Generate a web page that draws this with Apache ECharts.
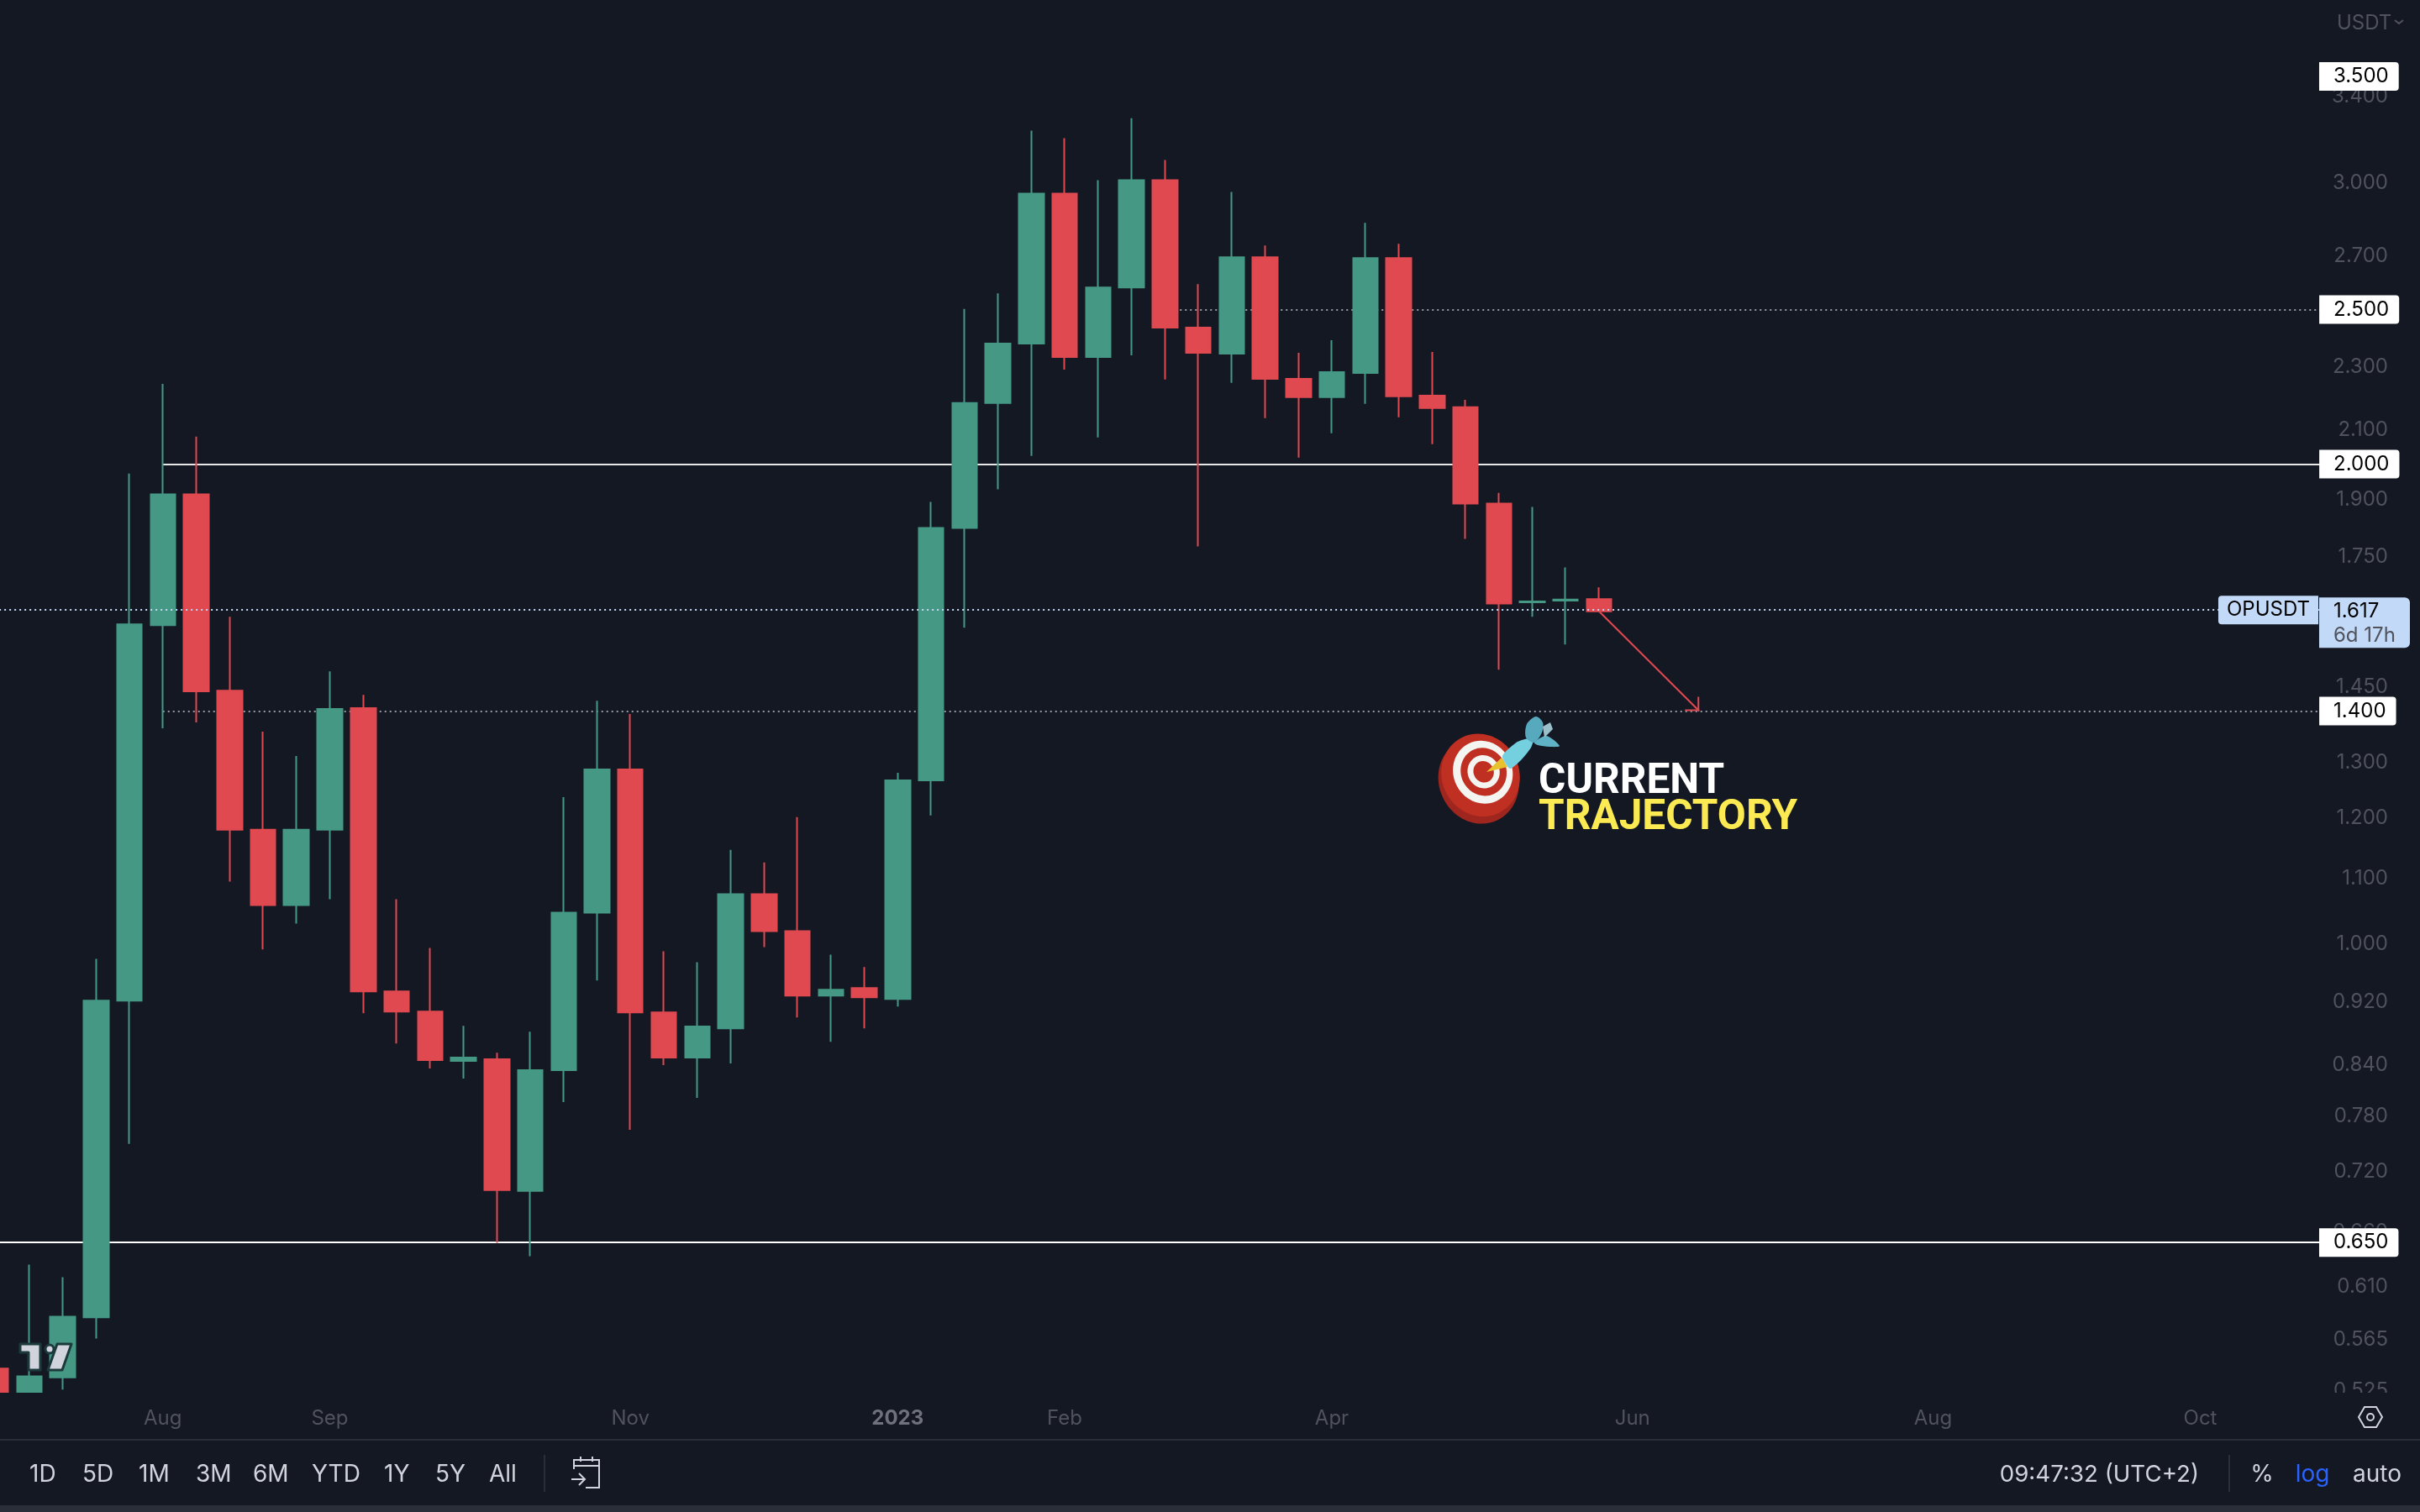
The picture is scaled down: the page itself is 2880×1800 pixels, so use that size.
<!DOCTYPE html>
<html><head><meta charset="utf-8">
<script src="https://cdn.jsdelivr.net/npm/echarts@6/dist/echarts.min.js"></script>
<style>html,body{margin:0;padding:0;background:#141823}#c{width:2880px;height:1800px}</style>
</head><body><div id="c"></div>
<script>
const opens  = [.5418,.5181,.5350,.5834,.9217,1.5847,1.9141,1.4419,1.1797,1.0579,1.1797,1.4058,.9340,.9072,.8448,.8469,.7003,.8337,1.0464,1.2869,.9062,.8489,.8855,1.0747,1.0189,.9284,.9386,.9239,1.2668,1.8235,2.1839,2.3796,2.9549,2.3341,2.5804,3.0129,2.4352,2.3456,2.6954,2.2620,2.2025,2.2810,2.6920,2.2078,2.1710,1.8887,1.6382,1.6422,1.6455];
const closes = [.5181,.5359,.5840,.9217,1.5867,1.9141,1.4403,1.1797,1.0579,1.1797,1.4041,.9340,.9072,.8458,.8489,.7011,.8337,1.0464,1.2869,.9062,.8489,.8878,1.0747,1.0189,.9284,.9363,.9262,1.2668,1.8235,2.1839,2.3796,2.9549,2.3341,2.5804,3.0129,2.4352,2.3485,2.6954,2.2620,2.2025,2.2837,2.6920,2.2052,2.1681,1.8887,1.6353,1.6400,1.6445,1.617];
const lows   = [.50,.5119,.5257,.5659,.7494,1.3657,1.3773,1.0944,.9925,1.0301,1.0670,.9050,.8665,.8357,.8236,.6497,.6373,.7961,.9489,.7649,.8397,.8009,.8418,.9957,.8996,.8685,.8855,.9139,1.2043,1.5790,1.9281,2.0234,2.2919,2.0781,2.3396,2.2593,1.7757,2.2484,2.1368,2.0184,2.0907,2.1813,2.1396,2.0579,1.7949,1.4863,1.6040,1.5413,1.615];
const highs  = [.545,.6296,.6182,.9790,1.9729,2.2456,2.0808,1.6040,1.3591,1.3121,1.4827,1.4331,1.0670,.9945,.8887,.8550,.8812,1.2365,1.4211,1.3941,.9897,.9742,1.1459,1.1252,1.2014,.9849,.9675,1.2807,1.8933,2.5022,2.5586,3.2359,3.2010,3.0129,3.2951,3.1018,2.5930,2.9620,2.7416,2.3484,2.3911,2.8329,2.7483,2.3512,2.1944,1.9186,1.8796,1.7229,1.6735];

const priceTicks = [3.4,3.0,2.7,2.3,2.1,1.9,1.75,1.45,1.3,1.2,1.1,1.0,.92,.84,.78,.72,.66,.61,.565,.525];
const monthLabels = {'2022-08-01':'Aug','2022-09-05':'Sep','2022-11-07':'Nov','2023-01-02':'{b|2023}','2023-02-06':'Feb','2023-04-03':'Apr','2023-06-05':'Jun','2023-08-07':'Aug','2023-10-02':'Oct'};
const solidLevels = [2.0,0.65];
const dottedLevels = [2.5,1.4];
const lastPrice = 1.617, arrowTarget = 1.4, topTag = 3.5;
const symbolName = 'OPUSDT', countdown = '6d 17h';
const rangeButtons = ['1D','5D','1M','3M','6M','YTD','1Y','5Y','All'];
const rangeX = [35,98,165,233,301,371,457,518,582];

const categories = [];
for (let i=0,t=Date.UTC(2022,5,27); i<71; i++,t+=7*864e5) categories.push(new Date(t).toISOString().slice(0,10));
const lastCat = categories[categories.length-1];
const candles = opens.map((o,i)=>[o,closes[i],lows[i],highs[i]]);

const UP='#459984', DOWN='#E04950', BG='#141823', TICK='#50535e', UI='#d1d4dc', SEP='#2a2e39';
const FONT='Inter, "Noto Sans", sans-serif';
const levelLabel = {show:true,position:'end',distance:-17.4,backgroundColor:'#fff',color:'#000',fontFamily:FONT,fontSize:24,
  padding:[5,12,3,17],lineHeight:26,borderRadius:[0,4,4,0],opacity:1};
const seg = (startCat,v,style)=>[{xAxis:startCat,yAxis:v,lineStyle:style,label:{formatter:v.toFixed(3)}},{xAxis:lastCat,yAxis:v}];

const chart = echarts.init(document.getElementById('c'),null,{renderer:'canvas'});
const gfx = [];
gfx.push({type:'rect',z:3,shape:{x:0,y:1658,width:2880,height:56},style:{fill:BG},silent:true});
gfx.push({type:'rect',z:6,shape:{x:0,y:1713,width:2880,height:2},style:{fill:SEP},silent:true});
gfx.push({type:'rect',z:6,shape:{x:0,y:1792,width:2880,height:8},style:{fill:SEP},silent:true});
rangeButtons.forEach((t,i)=>gfx.push({type:'text',z:6,style:{text:t,x:rangeX[i],y:1756,fill:UI,font:'400 28px '+FONT,textVerticalAlign:'middle'}}));
[[647,1732,44],[2652,1732,44]].forEach(a=>gfx.push({type:'rect',z:6,shape:{x:a[0],y:a[1],width:2,height:a[2]},style:{fill:SEP}}));
gfx.push({type:'text',z:6,style:{text:'09:47:32 (UTC+2)',x:2617,y:1756,fill:UI,font:'400 27.7px '+FONT,textAlign:'right',textVerticalAlign:'middle'}});
gfx.push({type:'text',z:6,style:{text:'%',x:2692,y:1756,fill:UI,font:'400 28px '+FONT,textAlign:'center',textVerticalAlign:'middle'}});
gfx.push({type:'text',z:6,style:{text:'log',x:2752,y:1756,fill:'#2962ff',font:'400 28px '+FONT,textAlign:'center',textVerticalAlign:'middle'}});
gfx.push({type:'text',z:6,style:{text:'auto',x:2829,y:1756,fill:UI,font:'400 28px '+FONT,textAlign:'center',textVerticalAlign:'middle'}});
gfx.push({type:'text',z:6,style:{text:'USDT',x:2781,y:28,fill:TICK,font:'400 24px '+FONT,textVerticalAlign:'middle'}});
gfx.push({type:'polyline',z:6,shape:{points:[[2850,24],[2855,28],[2860,24]]},style:{stroke:TICK,lineWidth:2,fill:null}});
gfx.push({type:'polygon',z:6,shape:{points:[[2807,1687],[2814,1675],[2828,1675],[2835,1687],[2828,1699],[2814,1699]]},style:{stroke:UI,lineWidth:2,fill:null}});
gfx.push({type:'circle',z:6,shape:{cx:2821,cy:1687,r:4},style:{stroke:UI,lineWidth:2,fill:null}});
gfx.push({type:'polyline',z:6,shape:{points:[[683,1749],[683,1738],[713,1738],[713,1771],[697,1771]]},style:{stroke:UI,lineWidth:2,fill:null}});
gfx.push({type:'polyline',z:6,shape:{points:[[683,1745],[713,1745]]},style:{stroke:UI,lineWidth:2}});
gfx.push({type:'polyline',z:6,shape:{points:[[691,1734],[691,1740]]},style:{stroke:UI,lineWidth:2}});
gfx.push({type:'polyline',z:6,shape:{points:[[705,1734],[705,1740]]},style:{stroke:UI,lineWidth:2}});
gfx.push({type:'polyline',z:6,shape:{points:[[680,1761],[695,1761]]},style:{stroke:UI,lineWidth:2}});
gfx.push({type:'polyline',z:6,shape:{points:[[689,1754],[696,1761],[689,1768]]},style:{stroke:UI,lineWidth:2,fill:null}});
const logo={stroke:'#1c3a3c',lineWidth:3,fill:UI,lineJoin:'round'};
gfx.push({type:'polygon',z:6,shape:{points:[[24,1600],[48,1600],[48,1631],[34,1631],[34,1610],[24,1610]]},style:logo});
gfx.push({type:'polygon',z:6,shape:{points:[[68,1600],[85,1600],[74,1631],[57,1631]]},style:logo});
gfx.push({type:'circle',z:6,shape:{cx:59,cy:1606,r:5},style:logo});
// target + dart illustration
const rot={rotation:0.45,originX:1762,originY:925};
gfx.push(Object.assign({type:'ellipse',z:6,shape:{cx:1758,cy:928,rx:47,ry:52},style:{fill:'#9f261e'}},rot));
gfx.push(Object.assign({type:'ellipse',z:6,shape:{cx:1763,cy:923,rx:46,ry:50},style:{fill:'#bf2f22'}},rot));
gfx.push(Object.assign({type:'ellipse',z:6,shape:{cx:1767,cy:921,rx:35,ry:38},style:{fill:'#f4f4f0'}},rot));
gfx.push(Object.assign({type:'ellipse',z:6,shape:{cx:1768,cy:921,rx:27,ry:29},style:{fill:'#bf2f22'}},rot));
gfx.push(Object.assign({type:'ellipse',z:6,shape:{cx:1768,cy:921,rx:19,ry:20},style:{fill:'#f4f4f0'}},rot));
gfx.push(Object.assign({type:'ellipse',z:6,shape:{cx:1768,cy:921,rx:12,ry:13},style:{fill:'#bf2f22'}},rot));
gfx.push({type:'polygon',z:6,shape:{points:[[1769,919],[1787,902],[1794,913]]},style:{fill:'#e8c22e'}});
gfx.push({type:'polygon',z:6,shape:{points:[[1788,900],[1806,883],[1825,878],[1822,890],[1810,905],[1797,915]],smooth:0.2},style:{fill:'#74cfdf'}});
gfx.push({type:'polygon',z:6,shape:{points:[[1816,878],[1817,862],[1828,853],[1836,860],[1835,872],[1826,884]],smooth:0.3},style:{fill:'#57a9bd'}});
gfx.push({type:'polygon',z:6,shape:{points:[[1826,884],[1840,876],[1856,888],[1844,889],[1830,887]],smooth:0.3},style:{fill:'#5fb2c5'}});
gfx.push({type:'polygon',z:6,shape:{points:[[1836,865],[1845,860],[1848,868],[1838,878]]},style:{fill:'#9ac0cc'}});
gfx.push({type:'text',z:6,style:{text:'CURRENT',x:1831,y:932,fill:'#ffffff',font:'700 49.5px Roboto, sans-serif',textVerticalAlign:'middle'}});
gfx.push({type:'text',z:6,style:{text:'TRAJECTORY',x:1831,y:975,fill:'#fcea52',font:'700 49.5px Roboto, sans-serif',textVerticalAlign:'middle'}});

chart.setOption({
  backgroundColor:BG, animation:false,
  graphic:{elements:gfx},
  grid:{left:-24.875,top:0,width:2822.25,height:1658,containLabel:false,outerBoundsMode:'none'},
  xAxis:{type:'category',data:categories,boundaryGap:true,z:4,
    axisLine:{show:false},axisTick:{show:false},splitLine:{show:false},
    axisLabel:{interval:0,margin:19,color:TICK,fontFamily:FONT,fontSize:24,hideOverlap:false,
      rich:{b:{fontFamily:FONT,fontSize:24,fontWeight:'bold',color:'#6f727c'}},
      formatter:v=>monthLabels[v]||''}},
  yAxis:{type:'log',logBase:10,min:0.5233,max:3.908,position:'right',z:0,
    axisLine:{show:false},axisTick:{show:false},splitLine:{show:false},minorTick:{show:false},
    axisLabel:{customValues:priceTicks,align:'right',margin:44.6,padding:[3,0,0,0],color:TICK,fontFamily:FONT,fontSize:24,showMinLabel:true,showMaxLabel:true,
      formatter:v=>(+v).toFixed(3)}},
  series:[
   {type:'candlestick',name:symbolName,data:candles,barWidth:30,z:2,
    itemStyle:{color:UP,color0:DOWN,borderColor:UP,borderColor0:DOWN,borderWidth:2},
    markLine:{silent:true,symbol:'none',z:1,animation:false,
      label:levelLabel,
      data:[
        seg('2022-08-01',solidLevels[0],{color:'#e8e8e8',width:2,type:'solid'}),
        {yAxis:solidLevels[1],lineStyle:{color:'#ffffff',width:2,type:'solid'},label:{distance:-37.4,formatter:solidLevels[1].toFixed(3)}},
        seg('2023-02-27',dottedLevels[0],{color:'#9598a1',width:2,type:[2,4]}),
        seg('2022-08-01',dottedLevels[1],{color:'#9598a1',width:2,type:[2,4]}),
        {yAxis:topTag,lineStyle:{width:0},label:{distance:-37.4,formatter:topTag.toFixed(3)}}
      ]}},
   {type:'line',name:'price',data:[],silent:true,z:5,
    markLine:{silent:true,symbol:'none',z:5,animation:false,
      data:[
       {yAxis:lastPrice,lineStyle:{color:'#c2d9f7',width:2,type:[2,4]},
        label:{show:true,position:'end',distance:-37.4,formatter:'{s| }\n{a|'+lastPrice.toFixed(3)+'}\n{c|'+countdown+'}',
          rich:{s:{height:28,width:108},
            a:{backgroundColor:'#c2d9f7',color:'#000',fontFamily:FONT,fontSize:24,height:34,lineHeight:34,width:91,padding:[0,0,0,17],borderRadius:[0,6,0,0]},
            c:{backgroundColor:'#c2d9f7',color:'#50535e',fontFamily:FONT,fontSize:24,height:28,lineHeight:24,width:91,padding:[0,0,0,17],borderRadius:[0,0,6,0]}}}},
       {yAxis:lastPrice,lineStyle:{width:0},
        label:{show:true,position:'end',distance:-157.4,formatter:symbolName,backgroundColor:'#c2d9f7',color:'#000',fontFamily:FONT,fontSize:24,
          padding:[5,10,3,10],lineHeight:26,borderRadius:[4,0,0,4]}}
      ]}},
   {type:'line',name:'arrow',data:[],silent:true,z:5,
    markLine:{silent:true,z:5,animation:false,
      symbol:['none','path://M12,-14 L12,14 L12,-14 Z M12,0 L24,12 L22.6,13.4 L12,2.8 L1.4,13.4 L0,12 Z'],symbolSize:[24,28],
      label:{show:false},
      lineStyle:{color:DOWN,width:2,type:'solid'},
      data:[[{xAxis:'2023-05-29',yAxis:lastPrice},{xAxis:'2023-06-19',yAxis:arrowTarget}]]}}
  ]
});
</script></body></html>
